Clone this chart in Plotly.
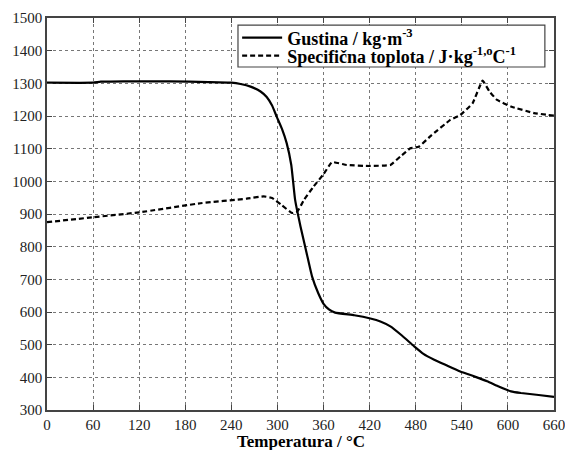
import plotly.graph_objects as go

# Density (Gustina) kg/m^3
t_density = [0, 60, 70, 100, 160, 210, 240, 252, 265, 278, 286, 293, 299, 306, 312, 318, 323, 330, 338, 345, 353, 360, 367, 375, 400, 421, 434, 447, 462, 478, 490, 504, 520, 538, 556, 573, 588, 604, 617, 640, 660]
density = [1302, 1302, 1305, 1306, 1306, 1304, 1302, 1298, 1290, 1275, 1258, 1232, 1198, 1160, 1117, 1050, 943, 862, 780, 709, 658, 625, 608, 598, 590, 580, 571, 556, 528, 495, 472, 454, 437, 418, 403, 388, 372, 357, 352, 346, 340]

# Specific heat (Specifična toplota) J/(kg·°C)
t_cp = [0, 60, 120, 200, 260, 282, 293, 305, 319, 326, 335, 347, 360, 371, 390, 420, 447, 460, 473, 484, 500, 525, 538, 554, 567, 576, 586, 604, 634, 660]
cp = [875, 890, 905, 933, 947, 954, 949, 928, 903, 908, 945, 984, 1022, 1059, 1050, 1047, 1050, 1076, 1101, 1106, 1140, 1188, 1203, 1239, 1308, 1275, 1249, 1229, 1209, 1201]

x_ticks = [0, 60, 120, 180, 240, 300, 360, 420, 480, 540, 600, 660]
y_ticks = [300, 400, 500, 600, 700, 800, 900, 1000, 1100, 1200, 1300, 1400, 1500]

serif = "Liberation Serif"

fig = go.Figure()
fig.add_trace(go.Scatter(
    x=t_density, y=density, mode="lines",
    name="Gustina / kg·m<sup>-3</sup>",
    line=dict(color="black", width=2.2, shape="spline", smoothing=0.4),
    legend="legend",
))
fig.add_trace(go.Scatter(
    x=t_cp, y=cp, mode="lines",
    name="Specifična toplota / J·kg<sup>-1,o</sup>C<sup>-1</sup>",
    line=dict(color="black", width=2.2, dash="5px,3px", shape="spline", smoothing=0.3),
    legend="legend2",
))

axis_common = dict(
    showline=True, linecolor="#444", linewidth=1.5, mirror="ticks",
    ticks="inside", ticklen=5, tickcolor="#444",
    showgrid=True, gridcolor="#777", griddash="dot", gridwidth=1,
    zeroline=False, automargin=False, ticklabeloverflow="allow",
    tickfont=dict(family=serif, size=15, color="#222"),
)

legend_common = dict(
    xanchor="left", yanchor="middle",
    bgcolor="rgba(0,0,0,0)", borderwidth=0,
    font=dict(family=serif, size=18, color="black", weight="bold"),
    tracegroupgap=0, itemwidth=40,
)

fig.update_layout(
    width=565, height=450,
    margin=dict(l=47, r=11, t=18, b=40),
    paper_bgcolor="white", plot_bgcolor="white",
    showlegend=True,
    legend=dict(x=0.375, y=0.949, **legend_common),
    legend2=dict(x=0.375, y=0.903, **legend_common),
    shapes=[dict(
        type="rect", xref="paper", yref="paper",
        x0=0.3767, x1=0.982, y0=0.875, y1=0.982,
        line=dict(color="#444", width=1.2), fillcolor="white", layer="above",
    )],
    annotations=[dict(
        text="Temperatura / °C", xref="paper", yref="paper",
        x=0.5, y=-0.08, xanchor="center", yanchor="middle", showarrow=False,
        font=dict(family=serif, size=17, color="black", weight="bold"),
    )],
    xaxis=dict(
        range=[0, 660], tickvals=x_ticks, ticktext=[str(v) for v in x_ticks],
        **axis_common,
    ),
    yaxis=dict(
        range=[300, 1500], tickvals=y_ticks, ticktext=[str(v) for v in y_ticks],
        **axis_common,
    ),
)

fig.write_html("out.html")
